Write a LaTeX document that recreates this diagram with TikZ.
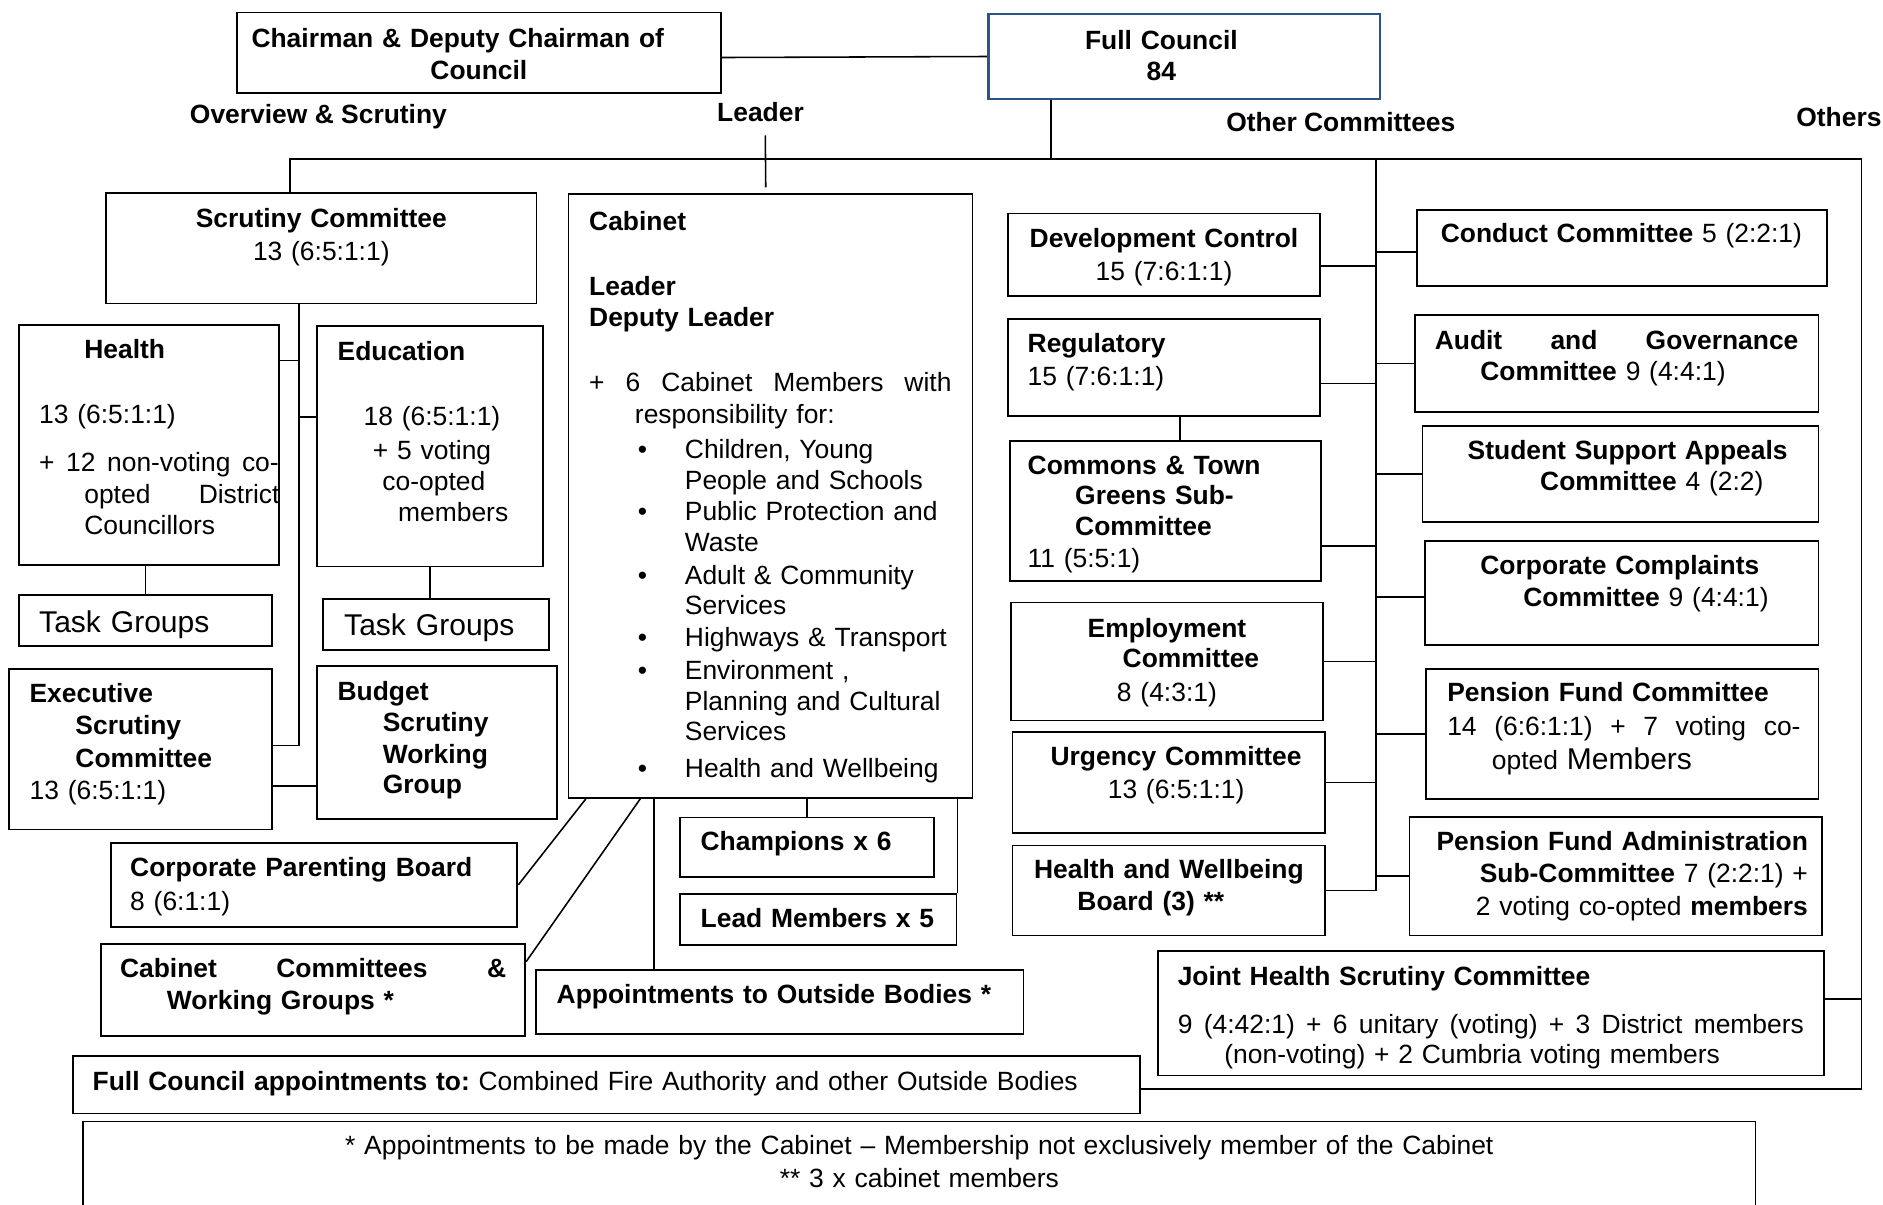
\documentclass[tikz,border=0pt]{standalone}
\usepackage{fontspec}
\setmainfont{Liberation Sans}
\definecolor{councilblue}{RGB}{44,84,136}
\newcommand{\justline}[2]{\makebox[#1][s]{\spaceskip=.278em plus 1fil\relax #2}}

\begin{document}
\begin{tikzpicture}[x=1pt,y=-1pt,
  box/.style={draw,line width=1.5pt,anchor=north west,inner ysep=0pt,align=left,
    font=\fontsize{22}{26.2}\selectfont\frenchspacing},
  bold box/.style={box,font=\fontsize{22}{26.2}\selectfont\frenchspacing\bfseries},
  head/.style={anchor=base west,inner sep=0pt,font=\fontsize{22}{26.2}\selectfont\bfseries},
  link/.style={line width=1.3pt}]

  \useasboundingbox (0,0) rectangle (1568,1003);

  \node[bold box,inner xsep=12.2pt,text width=379pt,text height=29.2pt,text depth=37.7pt]
    (chair) at (196.5,9.7) {Chairman \& Deputy Chairman of\\\hspace*{149pt}Council};
  \node[bold box,draw=councilblue,line width=2.2pt,align=center,inner xsep=10pt,text width=306pt,
    text height=29.7pt,text depth=41pt] (full) at (822,10.6)
    {\hspace*{-38pt}Full Council\\[-0.7pt]\hspace*{-38pt}84};

  \node[head] (ovs) at (158,102.5) {Overview \& Scrutiny};
  \node[head] (leader) at (597,101.3) {Leader};
  \node[head] (othc) at (1021,109.6) {Other Committees};
  \node[head] (others) at (1495.6,105.5) {Others};

  \node[box,align=center,inner xsep=10pt,text width=338.4pt,text height=28.8pt,text depth=63.2pt]
    (scrut) at (87.6,160) {\textbf{Scrutiny Committee}\\[1.5pt]13 (6:5:1:1)};
  \node[box,inner xsep=16.9pt,text width=182.6pt,text height=28.3pt,text depth=171.5pt]
    (health) at (15,269.7)
    {\hspace*{37.6pt}\textbf{Health}\\[27.8pt]
     13 (6:5:1:1)\\[13.3pt]
     \leavevmode\rlap{\justline{199.5pt}{+ 12 non-voting co-}}\\[0.9pt]
     \hspace*{37.6pt}\rlap{\justline{162.5pt}{opted District}}\\[-0.7pt]
     \hspace*{37.6pt}Councillors};
  \node[box,inner xsep=17.1pt,text width=154.1pt,text height=28.8pt,text depth=171.4pt]
    (edu) at (263.3,270.7)
    {\textbf{Education}\\[27.8pt]
     \hspace*{21.7pt}18 (6:5:1:1)\\[2.1pt]
     \hspace*{29.4pt}+ 5 voting\\[-0.5pt]
     \hspace*{37.3pt}co-opted\\[0.1pt]
     \hspace*{50.4pt}members};
  \node[box,font=\fontsize{25}{30}\selectfont,inner xsep=16.9pt,text width=177.2pt,text height=31.2pt,
    text depth=11.1pt] (tg1) at (15,494.7) {Task Groups};
  \node[box,font=\fontsize{25}{30}\selectfont,inner xsep=17.9pt,text width=152.5pt,text height=30.8pt,
    text depth=11.7pt] (tg2) at (268,498) {Task Groups};
  \node[box,inner xsep=16.9pt,text width=185.2pt,text height=28.2pt,text depth=105.8pt]
    (exec) at (7,556)
    {\textbf{Executive}\\[0.8pt]
     \hspace*{38.2pt}\textbf{Scrutiny}\\[0.8pt]
     \hspace*{38.2pt}\textbf{Committee}\\[0.8pt]
     13 (6:5:1:1)};
  \node[bold box,inner xsep=17.4pt,text width=165.2pt,text height=29.3pt,text depth=98.1pt]
    (budget) at (263,553.6)
    {Budget\\[-0.6pt]
     \hspace*{37.6pt}Scrutiny\\
     \hspace*{37.6pt}Working\\[-1pt]
     \hspace*{37.6pt}Group};

  \node[box,inner xsep=17.2pt,text width=302pt,text height=30.4pt,text depth=472.3pt]
    (cab) at (472.7,161)
    {\textbf{Cabinet}\\[27.4pt]
     \textbf{Leader}\\
     \textbf{Deputy Leader}\\[28.2pt]
     \justline{301.7pt}{+ 6 Cabinet Members with}\\[0.4pt]
     \hspace*{38.1pt}responsibility for:\\[2.6pt]
     \hspace*{40.6pt}\makebox[39.1pt][l]{\textbullet}Children, Young\\[-0.7pt]
     \hspace*{79.7pt}People and Schools\\
     \hspace*{40.6pt}\makebox[39.1pt][l]{\textbullet}Public Protection and\\[-0.4pt]
     \hspace*{79.7pt}Waste\\[1pt]
     \hspace*{40.6pt}\makebox[39.1pt][l]{\textbullet}Adult \& Community\\[-1pt]
     \hspace*{79.7pt}Services\\[0.2pt]
     \hspace*{40.6pt}\makebox[39.1pt][l]{\textbullet}Highways \& Transport\\[1.7pt]
     \hspace*{40.6pt}\makebox[39.1pt][l]{\textbullet}Environment ,\\[-0.3pt]
     \hspace*{79.7pt}Planning and Cultural\\[-1.8pt]
     \hspace*{79.7pt}Services\\[5.1pt]
     \hspace*{40.6pt}\makebox[39.1pt][l]{\textbullet}Health and Wellbeing};

  \node[box,inner xsep=15.7pt,text width=306.6pt,text height=28.1pt,text depth=41.5pt]
    (cpb) at (92,701.4) {\textbf{Corporate Parenting Board}\\[2.1pt]8 (6:1:1)};
  \node[bold box,inner xsep=15.6pt,text width=321.8pt,text height=27.8pt,text depth=48.6pt]
    (ccwg) at (83.6,785.5)
    {\justline{321.5pt}{Cabinet Committees \&}\\[0.2pt]\hspace*{39.1pt}Working Groups *};
  \node[bold box,inner xsep=17.3pt,text width=371.4pt,text height=27.8pt,text depth=25.5pt]
    (appt) at (445.5,807.2) {Appointments to Outside Bodies *};
  \node[bold box,inner xsep=17pt,text width=177.5pt,text height=27.8pt,text depth=22pt]
    (champ) at (565.7,680) {Champions x 6};
  \node[bold box,inner xsep=17pt,text width=196pt,text height=27.7pt,text depth=14.7pt]
    (lead) at (565.7,743.9) {Lead Members x 5};

  \node[box,inner xsep=16.2pt,text width=855.9pt,text height=29.1pt,text depth=18.9pt]
    (fcapp) at (60.2,878.5)
    {\textbf{Full Council appointments to:} Combined Fire Authority and other Outside Bodies};
  \node[box,align=center,inner xsep=20pt,text width=1352.4pt,text height=27.2pt,text depth=59.6pt]
    (note) at (68.6,933.2)
    {* Appointments to be made by the Cabinet \textendash{} Membership not exclusively member of the Cabinet\\[1.6pt]
     ** 3 x cabinet members};

  \node[box,align=center,inner xsep=10pt,text width=239.9pt,text height=28.4pt,text depth=40.2pt]
    (dev) at (838.6,177) {\textbf{Development Control}\\[1pt]15 (7:6:1:1)};
  \node[box,inner xsep=16.4pt,text width=227.1pt,text height=27.8pt,text depth=52.8pt]
    (reg) at (838.6,265) {\textbf{Regulatory}\\[1.6pt]15 (7:6:1:1)};
  \node[bold box,inner xsep=15pt,text width=229.4pt,text height=27.5pt,text depth=89.1pt]
    (com) at (840,366.7)
    {Commons \& Town\\[-0.7pt]
     \hspace*{39.6pt}Greens Sub-\\[-0.4pt]
     \hspace*{39.6pt}Committee\\[0.2pt]
     \textmd{11 (5:5:1)}};
  \node[bold box,align=center,inner xsep=10pt,text width=239.9pt,text height=28.9pt,text depth=69.3pt]
    (emp) at (841,501)
    {Employment\\[-0.9pt]\hspace*{40pt}Committee\\[2.1pt]\textmd{8 (4:3:1)}};
  \node[box,align=center,inner xsep=10pt,text width=240.4pt,text height=28.3pt,text depth=55.8pt]
    (urg) at (842.4,608.7)
    {\hspace*{12pt}\textbf{Urgency Committee}\\[0.6pt]\hspace*{12pt}13 (6:5:1:1)};
  \node[bold box,align=center,inner xsep=10pt,text width=240.4pt,text height=27.4pt,text depth=47.6pt]
    (hwb) at (842.4,703.3)
    {Health and Wellbeing\\[0.6pt]\hspace*{-30pt}Board (3) **};

  \node[box,inner xsep=20pt,text width=301.5pt,text height=27.2pt,text depth=36.1pt]
    (cond) at (1179,174) {\textbf{Conduct Committee} 5 (2:2:1)};
  \node[box,inner xsep=16.4pt,text width=303.1pt,text height=28.3pt,text depth=52pt]
    (audit) at (1177.6,261.7)
    {\justline{302.8pt}{\textbf{Audit and Governance}}\\[0pt]
     \hspace*{38pt}\textbf{Committee} 9 (4:4:1)};
  \node[box,inner xsep=16pt,text width=297.7pt,text height=27.8pt,text depth=51.9pt]
    (stud) at (1183.8,353.9)
    {\hspace*{21.6pt}\textbf{Student Support Appeals}\\[0.1pt]
     \hspace*{82pt}\textbf{Committee} 4 (2:2)};
  \node[box,inner xsep=16pt,text width=295.7pt,text height=28.3pt,text depth=58.3pt]
    (cc) at (1185.8,449.7)
    {\hspace*{30.2pt}\textbf{Corporate Complaints}\\[-0.1pt]
     \hspace*{66pt}\textbf{Committee} 9 (4:4:1)};
  \node[box,inner xsep=17.4pt,text width=291.7pt,text height=27.3pt,text depth=81.2pt]
    (pfc) at (1187,556.2)
    {\textbf{Pension Fund Committee}\\[2pt]
     \leavevmode\rlap{\justline{294.2pt}{14 (6:6:1:1) + 7 voting co-}}\\[2.1pt]
     \hspace*{37.2pt}opted {\fontsize{25}{30}\selectfont Members}};
  \node[box,align=right,inner xsep=12pt,text width=319.7pt,text height=28.3pt,text depth=70.5pt]
    (pfa) at (1173,679.5)
    {\textbf{Pension Fund Administration}\\[0.5pt]
     \textbf{Sub-Committee} 7 (2:2:1) +\\[0.5pt]
     2 voting co-opted \textbf{members}};
  \node[box,inner xsep=16.6pt,text width=521.4pt,text height=28.9pt,text depth=74.9pt]
    (jhs) at (963.4,791)
    {\textbf{Joint Health Scrutiny Committee}\\[13.4pt]
     \justline{521.4pt}{9 (4:42:1) + 6 unitary (voting) + 3 District members}\\[-1.2pt]
     \hspace*{38.8pt}(non-voting) + 2 Cumbria voting members};

  \coordinate (busL) at (241.6,132.4);
  \coordinate (busF) at (875,132.4);
  \coordinate (busO) at (1146,132.4);
  \coordinate (busR) at (1550,132.4);
  \coordinate (scrT) at ([xshift=-18.8pt]scrut.south);

  \draw[link] ([yshift=-4pt]chair.east) -- (full.west);
  \draw[link] (full.south -| busF) -- (busF);
  \draw[link] (busL |- scrut.north) -- (busL) -- (busR) |- ([yshift=-3.5pt]fcapp.east);
  \draw[link] ([xshift=4pt,yshift=-11pt]leader.south) -- ([xshift=-4pt,yshift=5pt]cab.north);
  \draw[link] (busO) -- (busO |- hwb.east);
  \draw[link] ([yshift=12pt]jhs.east) -- ([yshift=12pt]jhs.east -| busR);

  \path[link]
   ([yshift=-9.4pt]dev.east) edge ([yshift=-9.4pt]dev.east -| busO)
   ([yshift=-13.4pt]reg.east) edge ([yshift=-13.4pt]reg.east -| busO)
   ([yshift=-28.8pt]com.east) edge ([yshift=-28.8pt]com.east -| busO)
   (emp.east) edge (emp.east -| busO)
   (urg.east) edge (urg.east -| busO)
   (hwb.east) edge (hwb.east -| busO)
   ([yshift=-3.4pt]cond.west) edge ([yshift=-3.4pt]cond.west -| busO)
   (audit.west) edge (audit.west -| busO)
   (stud.west) edge (stud.west -| busO)
   ([yshift=-3.3pt]cc.west) edge ([yshift=-3.3pt]cc.west -| busO)
   (pfc.west) edge (pfc.west -| busO)
   (pfa.west) edge (pfa.west -| busO)
   ([xshift=13.5pt]reg.south) edge ([xshift=13.5pt]reg.south |- com.north);

  \draw[link] (scrT) |- ([yshift=3pt]exec.east);
  \path[link]
   ([yshift=70.1pt]health.east) edge ([yshift=70.1pt]health.east -| scrT)
   ([yshift=24.1pt]edu.west) edge ([yshift=24.1pt]edu.west -| scrT)
   (tg1.north) edge (tg1.north |- health.south)
   (edu.south) edge (edu.south |- tg2.north)
   ([yshift=-30.7pt]exec.east) edge ([yshift=-30.7pt]exec.east -| budget.west);

  \path[link]
   ([xshift=-153.8pt]cab.south) edge (cpb.east)
   ([xshift=-108.5pt]cab.south) edge ([yshift=-15.3pt]ccwg.north east)
   ([xshift=-96.9pt]cab.south) edge ([xshift=-96.9pt]cab.south |- appt.north)
   (champ.north) edge (champ.north |- cab.south)
   (lead.north east) edge (lead.north east |- cab.south);
\end{tikzpicture}
\end{document}
